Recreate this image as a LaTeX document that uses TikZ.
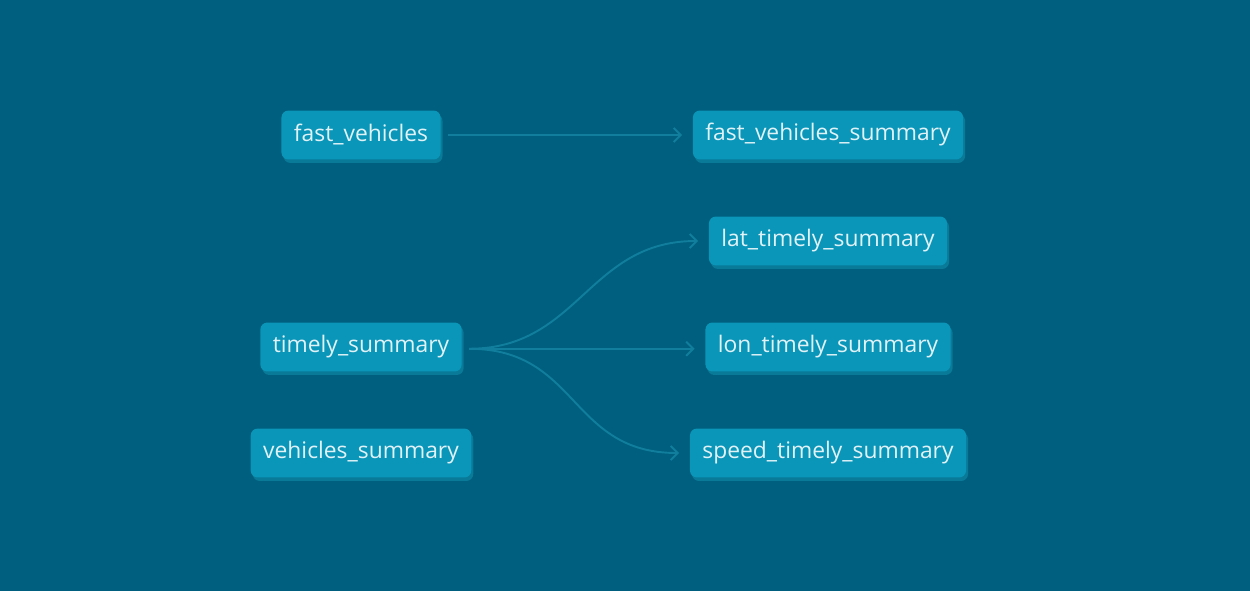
\documentclass[tikz,border=0pt]{standalone}
\usepackage{fontspec}
\setmainfont{Open Sans}
\usetikzlibrary{arrows.meta,shadows}
\definecolor{bgcol}{RGB}{0,95,126}
\definecolor{boxcol}{RGB}{10,150,185}
\definecolor{shadecol}{RGB}{9,122,152}
\definecolor{txtcol}{RGB}{225,242,247}
\definecolor{linkcol}{RGB}{16,126,156}
\tikzset{
  table/.style={rounded corners=4pt,fill=boxcol,text=txtcol,font=\fontsize{13}{15}\selectfont,
    minimum height=0.98cm,inner xsep=0.25cm,
    drop shadow={shadow xshift=0.04cm,shadow yshift=-0.07cm,fill=shadecol,opacity=1}},
  link/.style={draw=linkcol,line width=1.1pt,-{Straight Barb[length=4pt,width=8pt]}}
}
\begin{document}
\begin{tikzpicture}[x=0.02cm,y=-0.02cm]
  \fill[bgcol] (0,0) rectangle (1250,591);
  \useasboundingbox (0,0) rectangle (1250,591);
  % sources
  \node[table] (fastveh) at (361,135) {fast\_vehicles};
  \node[table] (timely) at (361,347) {timely\_summary};
  \node[table] (vehsum) at (361,453) {vehicles\_summary};
  % targets
  \node[table] (fastvehsum) at (828,135) {fast\_vehicles\_summary};
  \node[table] (lat) at (828,241) {lat\_timely\_summary};
  \node[table] (lon) at (828,347) {lon\_timely\_summary};
  \node[table] (speed) at (828,453) {speed\_timely\_summary};
  % links
  \draw[link] ([xshift=4pt]fastveh.east) -- ([xshift=-6pt]fastvehsum.west);
  \draw[link] ([xshift=4pt,yshift=-1pt]timely.east) .. controls +(110,0) and +(-110,0) .. ([xshift=-6pt]lat.west);
  \draw[link] ([xshift=4pt,yshift=-1pt]timely.east) -- ([xshift=-6pt,yshift=-1pt]lon.west);
  \draw[link] ([xshift=4pt,yshift=-1pt]timely.east) .. controls +(110,0) and +(-110,0) .. ([xshift=-6pt]speed.west);
\end{tikzpicture}
\end{document}
